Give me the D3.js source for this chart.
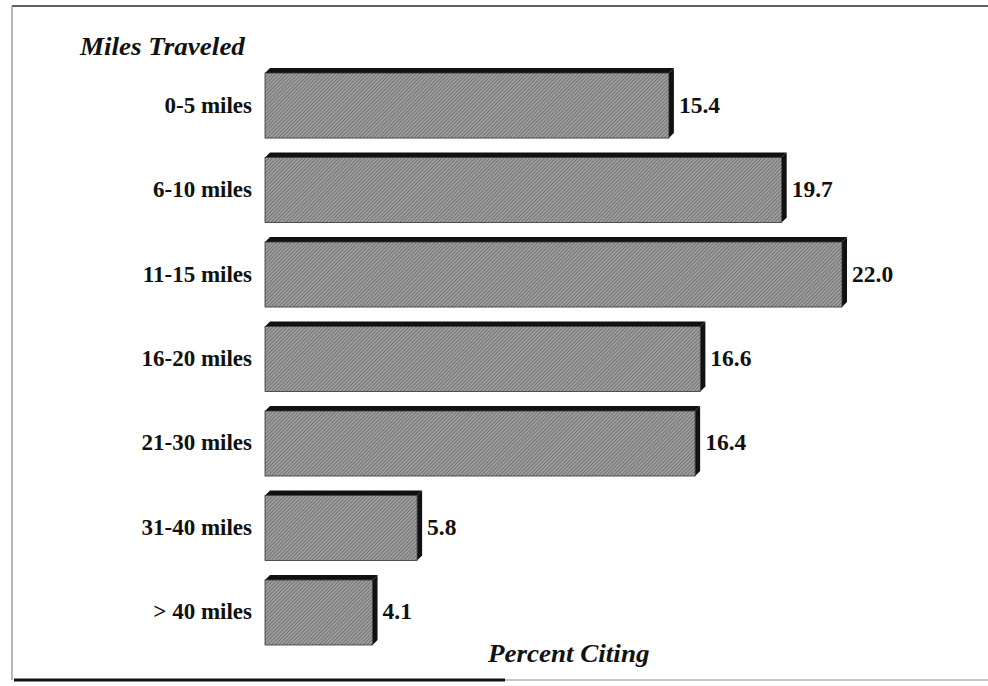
<!DOCTYPE html>
<html>
<head>
<meta charset="utf-8">
<script src="https://cdn.jsdelivr.net/npm/d3@7"></script>
<style>
  html, body { margin: 0; padding: 0; background: #fff; }
  svg { display: block; }
  text { font-family: "Liberation Serif", "Times New Roman", serif; fill: #111; }
</style>
</head>
<body>
<svg id="chart" width="988" height="686"></svg>
<script>
// Share of respondents by distance travelled
const categories = ["0-5 miles", "6-10 miles", "11-15 miles", "16-20 miles", "21-30 miles", "31-40 miles", "> 40 miles"];
const percents = [15.4, 19.7, 22.0, 16.6, 16.4, 5.8, 4.1];
const valueLabels = ["15.4", "19.7", "22.0", "16.6", "16.4", "5.8", "4.1"];
const yTitle = "Miles Traveled";
const xTitle = "Percent Citing";

const svg = d3.select("#chart");
const W = 988, H = 686;
const depth = 5;      // extrusion of the 3-D bars

const x = d3.scaleLinear().domain([0, 22]).range([265, 842]);
const y = d3.scaleBand().domain(categories).range([73, 645]).paddingInner(0.23).paddingOuter(0);

// hatched fill for the bar faces
const defs = svg.append("defs");
const pat = defs.append("pattern")
  .attr("id", "hatch").attr("patternUnits", "userSpaceOnUse")
  .attr("width", 2.6).attr("height", 2.6)
  .attr("patternTransform", "rotate(45)");
pat.append("rect").attr("width", 2.6).attr("height", 2.6).attr("fill", "#9e9e9e");
pat.append("line").attr("x1", 0).attr("y1", 0).attr("x2", 0).attr("y2", 2.6)
  .attr("stroke", "#555").attr("stroke-width", 1.1);

// frame
svg.append("line").attr("x1", 12).attr("y1", 6).attr("x2", W).attr("y2", 6)
  .attr("stroke", "#2a2a2a").attr("stroke-width", 1.6);
svg.append("line").attr("x1", 12).attr("y1", 6).attr("x2", 12).attr("y2", 680)
  .attr("stroke", "#888").attr("stroke-width", 1.2);
svg.append("line").attr("x1", 14).attr("y1", 680).attr("x2", 505).attr("y2", 680)
  .attr("stroke", "#111").attr("stroke-width", 3);
svg.append("line").attr("x1", 505).attr("y1", 680).attr("x2", W).attr("y2", 680)
  .attr("stroke", "#c4c4c4").attr("stroke-width", 2);

const rows = categories.map((c, i) => ({ cat: c, v: percents[i], label: valueLabels[i] }));

const g = svg.append("g");
const bar = g.selectAll("g.bar").data(rows).join("g").attr("class", "bar");

// top face
bar.append("path")
  .attr("d", d => {
    const x0 = x(0), x1 = x(d.v), y0 = y(d.cat);
    return `M${x0},${y0} L${x0 + depth},${y0 - depth} L${x1 + depth},${y0 - depth} L${x1},${y0} Z`;
  })
  .attr("fill", "#111");

// side face
bar.append("path")
  .attr("d", d => {
    const x1 = x(d.v), y0 = y(d.cat), y1 = y0 + y.bandwidth();
    return `M${x1},${y0} L${x1 + depth},${y0 - depth} L${x1 + depth},${y1 - depth} L${x1},${y1} Z`;
  })
  .attr("fill", "#111");

// front face
bar.append("rect")
  .attr("x", x(0))
  .attr("y", d => y(d.cat))
  .attr("width", d => x(d.v) - x(0))
  .attr("height", y.bandwidth())
  .attr("fill", "url(#hatch)")
  .attr("stroke", "#333").attr("stroke-width", 0.8);

// value labels
bar.append("text")
  .attr("x", d => x(d.v) + depth + 5)
  .attr("y", d => y(d.cat) + y.bandwidth() / 2 + 7)
  .attr("font-size", 23.5).attr("font-weight", "bold")
  .text(d => d.label);

// category labels
bar.append("text")
  .attr("x", 252)
  .attr("y", d => y(d.cat) + y.bandwidth() / 2 + 7)
  .attr("text-anchor", "end")
  .attr("font-size", 23).attr("font-weight", "bold")
  .text(d => d.cat);

// axis titles
svg.append("text")
  .attr("transform", "translate(80,55) scale(1.04,1)")
  .attr("font-size", 26).attr("font-weight", "bold").attr("font-style", "italic")
  .text(yTitle);
svg.append("text")
  .attr("transform", "translate(488,662) scale(1.04,1)")
  .attr("font-size", 26).attr("font-weight", "bold").attr("font-style", "italic")
  .text(xTitle);
</script>
</body>
</html>
